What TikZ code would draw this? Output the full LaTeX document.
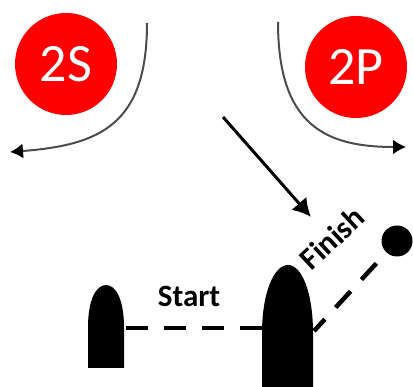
\documentclass[tikz,border=0pt]{standalone}
\usepackage{fontspec}
\setmainfont{Carlito}
\usepackage{xcolor}
\usepackage{tikz}
\usetikzlibrary{arrows.meta}

\definecolor{markred}{HTML}{FF0000}

\begin{document}
\begin{tikzpicture}[x=1pt,y=-1pt,
    markbuoy/.style={circle,fill=markred,inner sep=0pt,minimum size=102pt,
      text=white,font=\fontsize{54}{60}\selectfont},
    turnarc/.style={draw=black!70,line width=2pt,-{Latex[length=13pt,width=15pt,black]}},
    lineleg/.style={line width=4.5pt,dash pattern=on 22pt off 16pt},
    legtext/.style={font=\bfseries\fontsize{31}{36}\selectfont}]
  \useasboundingbox (0,0) rectangle (413,387);

  % Marks
  \node[markbuoy] (twoS) at (66,64) {2S};
  \node[markbuoy] (twoP) at (356,67) {2P};

  % Turn arcs
  \coordinate (arcSa) at (147,23);
  \coordinate (arcSb) at (10,152);
  \coordinate (arcPa) at (278,22);
  \coordinate (arcPb) at (406,147);
  \draw[turnarc] (arcSa) .. controls (147,125) and (100,145) .. (arcSb);
  \draw[turnarc] (arcPa) .. controls (278,125) and (325,147) .. (arcPb);

  % Approach
  \coordinate (appA) at (223,117);
  \coordinate (appB) at (311,217);
  \draw[line width=3pt,-{Latex[length=18pt,width=20pt]}] (appA) -- (appB);

  % Start buoy
  \fill (88,368) -- (88,327) .. controls (88,300) and (96,285) .. (106,285)
    .. controls (116,285) and (124,300) .. (124,327) -- (124,368) -- cycle;
  % Finish buoy
  \fill (262,387) -- (262,333) .. controls (262,293) and (274,265) .. (288,265)
    .. controls (302,265) and (313,293) .. (313,333) -- (313,387) -- cycle;
  % Finish ball
  \node[circle,fill=black,inner sep=0pt,minimum size=31pt] (ball) at (397,241) {};

  % Lines
  \coordinate (startL) at (124,328);
  \coordinate (startR) at (262,328);
  \coordinate (finL) at (314,331);
  \draw[lineleg,dash phase=-2pt] (startL) -- (startR);
  \draw[lineleg,dash phase=6pt] (finL) -- (ball.center);

  % Labels
  \node[legtext] (start) at (189,296) {Start};
  \node[legtext,rotate=43] (finish) at (332,238) {Finish};
\end{tikzpicture}
\end{document}
